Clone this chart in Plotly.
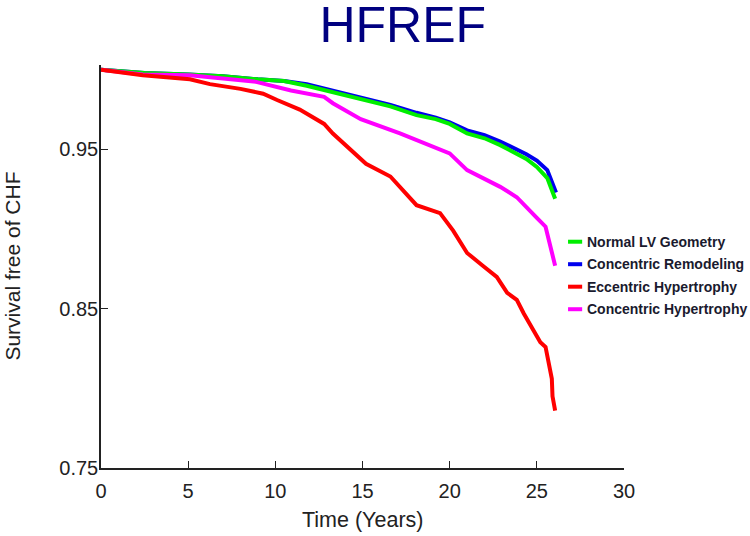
import plotly.graph_objects as go

# ---- data ----
series_names = ["Normal LV Geometry", "Concentric Remodeling", "Eccentric Hypertrophy", "Concentric Hypertrophy"]
series_colors = ["#00ee00", "#0000ee", "#ff0000", "#ff00ff"]

normal_t = [0, 2.5, 5, 7, 9, 10.5, 11.8, 13.7, 15.2, 16.6, 18.1, 19.2, 20.0, 21.0, 22.0, 22.9, 24.4, 25.0, 25.6, 26.05]
normal_v = [1.0, 0.998, 0.997, 0.996, 0.994, 0.993, 0.990, 0.985, 0.981, 0.977, 0.9715, 0.969, 0.966, 0.960, 0.957, 0.9527, 0.944, 0.939, 0.932, 0.919]

remod_t = [0, 2.5, 5, 7, 9, 10.5, 11.8, 13.7, 15.2, 16.6, 18.1, 19.2, 20.0, 21.0, 22.0, 22.9, 24.4, 25.0, 25.6, 26.1]
remod_v = [1.0, 0.998, 0.997, 0.996, 0.994, 0.993, 0.991, 0.986, 0.982, 0.978, 0.973, 0.970, 0.967, 0.962, 0.959, 0.955, 0.947, 0.943, 0.937, 0.923]

ecc_t = [0, 2.4, 5.1, 6.25, 8.0, 9.3, 10.1, 11.4, 12.8, 13.3, 15.2, 16.6, 18.1, 19.45, 20.2, 21.0, 21.9, 22.7,
         23.3, 23.85, 24.25, 24.8, 25.2, 25.5, 25.7, 25.86, 25.9, 26.05]
ecc_v = [1.0, 0.9966, 0.994, 0.991, 0.988, 0.985, 0.981, 0.975, 0.966, 0.960, 0.941, 0.933, 0.915, 0.910, 0.899, 0.885, 0.877, 0.870,
         0.860, 0.8555, 0.847, 0.837, 0.829, 0.826, 0.814, 0.806, 0.795, 0.786]

conc_t = [0, 2.4, 5.1, 7.0, 8.9, 10.9, 11.4, 12.8, 13.3, 14.9, 17.15, 19.05, 20.0, 21.0, 21.7, 22.9, 23.85, 24.6, 25.0, 25.5, 25.8, 26.05]
conc_v = [1.0, 0.997, 0.9966, 0.9945, 0.9924, 0.987, 0.986, 0.983, 0.979, 0.969, 0.960, 0.952, 0.9475, 0.937, 0.933, 0.9265, 0.920, 0.911, 0.907, 0.9015, 0.889, 0.877]

x_ticks = [0, 5, 10, 15, 20, 25, 30]
y_ticks = [0.75, 0.85, 0.95]
y_tick_text = ["0.75", "0.85", "0.95"]

FONT = "Arial, Liberation Sans, sans-serif"
TXT = "#222222"

fig = go.Figure()
# draw order: remodeling first so normal (green) sits on top of it
order = [(1, remod_t, remod_v), (0, normal_t, normal_v), (3, conc_t, conc_v), (2, ecc_t, ecc_v)]
for idx, t, v in order:
    fig.add_trace(go.Scatter(x=t, y=v, mode="lines", name=series_names[idx],
                             line=dict(color=series_colors[idx], width=4), showlegend=False))

# custom legend (short line + bold text), as in the reference
leg_y = [0.5615, 0.5057, 0.4499, 0.394]
for i, name in enumerate(series_names):
    fig.add_shape(type="line", xref="paper", yref="paper", x0=0.893, x1=0.920, y0=leg_y[i], y1=leg_y[i],
                  line=dict(color=series_colors[i], width=4))
    fig.add_annotation(xref="paper", yref="paper", x=0.925, y=leg_y[i], xanchor="left", yanchor="middle",
                       text="<b>" + name + "</b>", showarrow=False,
                       font=dict(family=FONT, size=14, color="#1a1a2e"))

# axis titles
fig.add_annotation(xref="paper", yref="paper", x=0.5, y=-0.129, xanchor="center", yanchor="middle",
                   text="Time (Years)", showarrow=False, font=dict(family=FONT, size=21.5, color=TXT))
fig.add_annotation(xref="paper", yref="paper", x=-0.170, y=0.5, xanchor="center", yanchor="middle",
                   textangle=-90, text="Survival free of CHF", showarrow=False,
                   font=dict(family=FONT, size=21, color=TXT))

fig.update_layout(
    width=750, height=536,
    margin=dict(l=101, r=126, t=65, b=68, autoexpand=False),
    paper_bgcolor="white", plot_bgcolor="white",
    title=dict(text="HFREF", x=0.537, xanchor="center", y=0.955, yanchor="middle",
               font=dict(family=FONT, size=50, color="#000080")),
    font=dict(family=FONT, color=TXT),
)
fig.update_xaxes(range=[0, 30], tickvals=x_ticks, ticks="inside", ticklen=7, tickcolor="#222",
                 showline=True, linecolor="#222", linewidth=1.5, showgrid=False, zeroline=False,
                 tickfont=dict(size=20, color=TXT), ticklabelstandoff=4, automargin=False)
fig.update_yaxes(range=[0.75, 1.003], tickvals=y_ticks, ticktext=y_tick_text, ticks="inside", ticklen=7,
                 tickcolor="#222", showline=True, linecolor="#222", linewidth=1.5, showgrid=False,
                 zeroline=False, tickfont=dict(size=20, color=TXT), ticklabelstandoff=-3, automargin=False)

fig.write_html("out.html", config={"displayModeBar": False},
               post_script="document.body.style.margin='0';document.body.style.overflow='hidden';")
